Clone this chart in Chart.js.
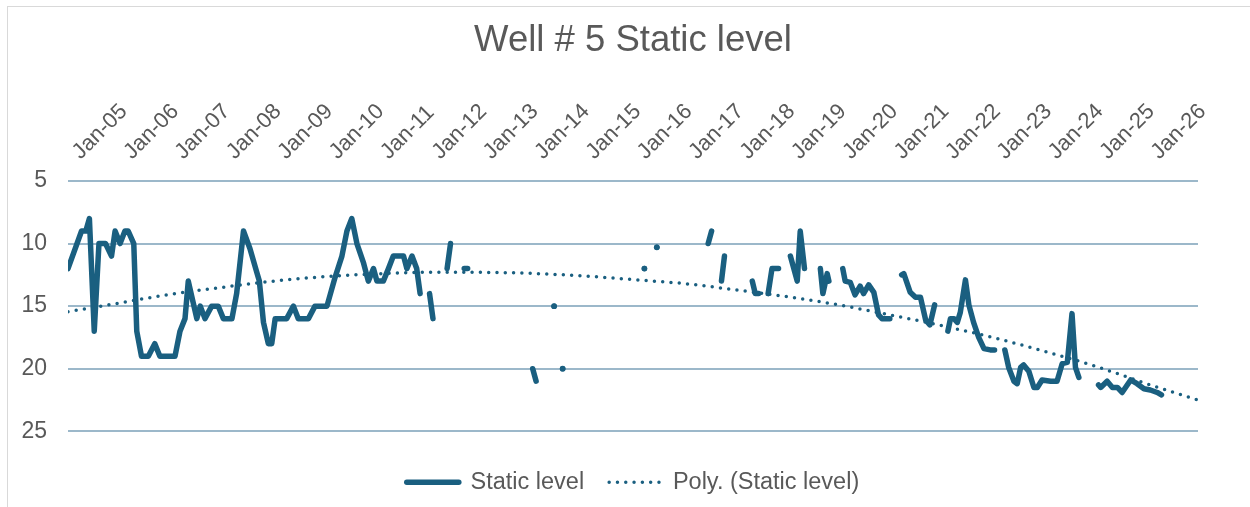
<!DOCTYPE html>
<html lang="en">
<head>
<meta charset="UTF-8">
<title>Well # 5 Static level</title>
<script src="https://cdn.jsdelivr.net/npm/chart.js"></script>
<style>
    body{
        margin: 0;
        background: #ffffff;
    }
    .quadro{
        position: absolute;
        left: 0;
        top: 0;
        width: 1250px;
        height: 507px;
    }
    .moldura{
        position: absolute;
        left: 7px;
        top: 6px;
        width: 1243px;
        height: 501px;
        border-left: 1.5px solid #d9d9d9;
        border-top: 1.5px solid #d9d9d9;
        pointer-events: none;
    }
</style>
</head>
<body>
<div class="quadro"><canvas id="grafico"></canvas></div>
<div class="moldura"></div>

<script>
    // leituras do nivel estatico (null = sem medicao, quebra a linha)
    const datas = [
        '2005-01-01','2005-04-06','2005-05-06','2005-06-01','2005-07-05','2005-08-08','2005-09-24','2005-11-06','2005-12-01',
        '2006-01-06','2006-02-10','2006-03-03','2006-04-12','2006-05-03','2006-06-06','2006-07-24','2006-09-09','2006-10-15',
        '2007-02-01','2007-03-06','2007-04-11','2007-05-04','2007-07-04','2007-07-28','2007-09-01','2007-10-18','2007-12-04',
        '2008-01-10','2008-03-10','2008-04-13','2008-06-01','2008-07-16','2008-09-04','2008-09-22','2008-10-21','2008-11-25','2008-12-19',
        '2009-01-13','2009-04-04','2009-05-21','2009-06-25','2009-09-06','2009-10-22',
        '2010-01-16','2010-03-13','2010-05-01','2010-06-06','2010-07-10','2010-08-16','2010-10-01','2010-11-06','2010-12-12',
        '2011-01-06','2011-02-21','2011-03-27','2011-05-01','2011-07-13','2011-08-06','2011-09-12','2011-10-15','2011-11-09','2011-12-15',
        '2012-01-15','2012-02-09','2012-03-25','2012-05-18','2012-06-12','2012-07-30','2012-09-18','2012-10-12','2013-06-01',
        '2014-01-18','2014-02-12','2014-04-15','2014-06-18','2014-07-18','2014-08-18','2015-06-01',
        '2016-03-21','2016-05-01','2016-06-18','2017-01-01',
        '2017-06-18','2017-07-12','2017-08-15','2017-09-21','2017-10-12','2018-01-15',
        '2018-04-27','2018-05-18','2018-06-12','2018-07-15','2018-08-18','2018-09-15','2018-11-01','2018-12-15',
        '2019-01-24','2019-03-12','2019-04-03','2019-05-03','2019-07-01','2019-08-24','2019-09-12','2019-10-12','2019-10-24','2019-12-15',
        '2020-02-01','2020-02-18','2020-03-24','2020-04-27','2020-06-03','2020-06-27','2020-08-03','2020-09-09','2020-10-12','2020-11-06',
        '2021-01-01','2021-02-10','2021-03-24','2021-04-09','2021-05-24','2021-07-01','2021-08-06','2021-09-12','2021-10-12','2021-11-15',
        '2022-01-01','2022-02-18','2022-03-06','2022-04-01','2022-04-24','2022-05-15','2022-06-21','2022-07-15','2022-08-18','2022-09-24','2022-11-01','2022-12-15',
        '2023-01-15','2023-02-20','2023-03-27','2023-04-24','2023-06-01','2023-06-24','2023-07-18','2023-08-09','2023-09-15','2023-10-21','2023-11-15','2023-12-18',
        '2024-02-18','2024-04-03','2024-05-09','2024-06-15','2024-07-18','2024-08-12','2024-09-06','2024-11-15',
        '2025-01-24','2025-02-09','2025-03-24','2025-05-01','2025-06-06','2025-07-09','2025-08-03','2025-09-09','2025-10-24','2025-12-12',
        '2026-01-27','2026-03-15','2026-04-15'
    ];
    const niveis = [
        12, 9, 9, 8, 17, 10, 10, 11, 9,
        10, 9, 9, 10, 17, 19, 19, 18, 19,
        19, 17, 16, 13, 16, 15, 16, 15, 15,
        16, 16, 14, 9, 10.4, 12.3, 13, 16.3, 18, 18,
        16, 16, 15, 16, 16, 15,
        15, 12.7, 11, 9, 8, 10, 11.5, 13, 12,
        13, 13, 12, 11, 11, 12, 11, 12, 14, null,
        14, 16, null, 12, 10, null, 12, 12, null,
        20, 21, null, 15, null, 20, null,
        12, null, 10.3, null,
        10, 9, null, 13, 11, null,
        13, 14, 14, null, 14, 12, 12, null,
        11, 13, 9, 12, null, 12, 14, 12.4, 13, null,
        12, 13, 13.1, 14.1, 13.4, 14, 13.3, 13.9, 15.7, 16,
        16, null, 12.5, 12.4, 13.9, 14.3, 14.3, 16.1, 16.5, 14.9,
        null, 17, 16, 16, 16.3, 15.5, 12.9, 14.9, 16.3, 17.5, 18.4, 18.5,
        18.5, null, 18.5, 19.9, 21, 21.2, 19.9, 19.7, 20.2, 21.5, 21.5, 20.9,
        21, 21, 19.6, 19.5, 15.6, 19.9, 20.7, null,
        21.3, 21.5, 21, 21.5, 21.5, 21.9, 21.5, 20.9, 21.2, 21.6,
        21.7, 21.9, 22.1
    ];

    // linha de tendencia polinomial lida no inicio de cada ano
    const anosTendencia = [2005,2006,2007,2008,2009,2010,2011,2012,2013,2014,2015,2016,2017,2018,2019,2020,2021,2022,2023,2024,2025,2026,2027];
    const valoresTendencia = [15.45,14.75,14.05,13.5,13.0,12.65,12.42,12.3,12.3,12.38,12.58,12.88,13.2,13.7,14.25,14.9,15.7,16.55,17.5,18.6,19.8,21.2,22.5];

    const anosEixo = [2005,2006,2007,2008,2009,2010,2011,2012,2013,2014,2015,2016,2017,2018,2019,2020,2021,2022,2023,2024,2025,2026];
    const rotulosEixo = ['Jan-05','Jan-06','Jan-07','Jan-08','Jan-09','Jan-10','Jan-11','Jan-12','Jan-13','Jan-14','Jan-15',
                         'Jan-16','Jan-17','Jan-18','Jan-19','Jan-20','Jan-21','Jan-22','Jan-23','Jan-24','Jan-25','Jan-26'];

    const fonte = "'Liberation Sans', Arial, sans-serif";
    const cinza = '#595959';
    const azul = '#1a5f80';

    function paraAno(texto){
        var partes = texto.split('-').map(Number);
        return partes[0] + (partes[1] - 1 + (partes[2] - 1) / 30) / 12;
    }

    function isolado(i){
        if(niveis[i] === null) return false;
        var antes = i === 0 || niveis[i-1] === null;
        var depois = i === niveis.length - 1 || niveis[i+1] === null;
        return antes && depois;
    }

    var pontos = datas.map(function(d, i){ return {x: paraAno(d), y: niveis[i]}; });
    var pontosTendencia = anosTendencia.map(function(a, i){ return {x: a, y: valoresTendencia[i]}; });

    new Chart(document.getElementById('grafico'), {
        type: 'line',
        data: {
            datasets: [{
                label: 'Static level',
                data: pontos,
                borderColor: azul,
                backgroundColor: azul,
                borderWidth: 5.5,
                borderCapStyle: 'round',
                borderJoinStyle: 'round',
                tension: 0,
                spanGaps: false,
                pointRadius: function(ctx){ return isolado(ctx.dataIndex) ? 2.9 : 0; },
                pointBorderWidth: 0,
                pointBackgroundColor: azul
            },
            {
                label: 'Poly. (Static level)',
                data: pontosTendencia,
                borderColor: azul,
                borderWidth: 3.5,
                borderDash: [0, 8.3],
                borderCapStyle: 'round',
                cubicInterpolationMode: 'monotone',
                pointRadius: 0
            }]
        },
        options: {
            responsive: true,
            maintainAspectRatio: false,
            animation: false,
            layout: {
                padding: {top: 0, left: 0, right: 52, bottom: 3}
            },
            plugins: {
                title: {
                    display: true,
                    text: 'Well # 5 Static level',
                    color: cinza,
                    fullSize: false,
                    font: {family: fonte, size: 36.5, weight: 'normal'},
                    padding: {top: 19, bottom: 0}
                },
                legend: {
                    position: 'bottom',
                    fullSize: false,
                    title: {display: true, text: '', font: {size: 10, lineHeight: 1}, padding: {top: 4.25, bottom: 0}},
                    labels: {
                        usePointStyle: true,
                        pointStyleWidth: 52,
                        padding: 25,
                        color: cinza,
                        font: {family: fonte, size: 23.5},
                        generateLabels: function(){
                            return [
                                {text: 'Static level', strokeStyle: azul, fillStyle: azul, lineWidth: 5.5, lineCap: 'round',
                                 lineDash: [], pointStyle: 'line', fontColor: cinza, hidden: false, datasetIndex: 0},
                                {text: 'Poly. (Static level)', strokeStyle: azul, fillStyle: azul, lineWidth: 3.5, lineCap: 'round',
                                 lineDash: [0, 8.3], pointStyle: 'line', fontColor: cinza, hidden: false, datasetIndex: 1}
                            ];
                        }
                    }
                },
                tooltip: {enabled: false}
            },
            scales: {
                x: {
                    type: 'linear',
                    position: 'top',
                    min: 2005,
                    max: 2027,
                    grid: {display: false, drawTicks: false},
                    border: {display: false},
                    afterBuildTicks: function(s){
                        s.ticks = anosEixo.map(function(a){ return {value: a}; });
                    },
                    afterFit: function(s){
                        s.height = 118.2;
                        s.paddingLeft = 0;
                        s.paddingRight = 0;
                    },
                    ticks: {
                        minRotation: 45,
                        maxRotation: 45,
                        autoSkip: false,
                        padding: 16,
                        labelOffset: 27,
                        color: cinza,
                        font: {family: fonte, size: 22},
                        callback: function(v, i){ return rotulosEixo[i]; }
                    }
                },
                y: {
                    reverse: true,
                    min: 5,
                    max: 25,
                    afterFit: function(s){ s.width = 68; },
                    grid: {color: '#9cb8ca', lineWidth: 2, drawTicks: false},
                    border: {display: false},
                    ticks: {
                        stepSize: 5,
                        padding: 21,
                        color: cinza,
                        font: {family: fonte, size: 23}
                    }
                }
            }
        }
    });
</script>
</body>
</html>
